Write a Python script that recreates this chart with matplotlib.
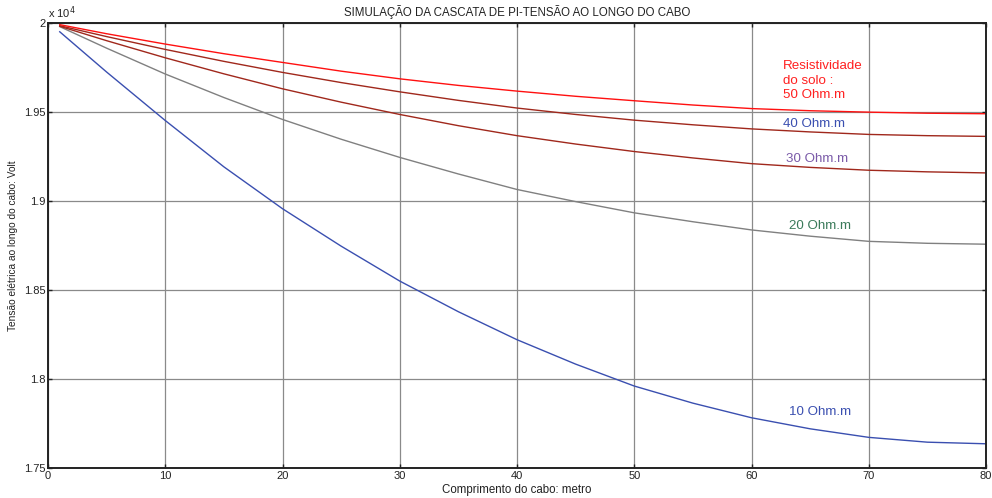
import matplotlib
matplotlib.use('Agg')
import matplotlib.pyplot as plt

plt.rcParams['font.family'] = ['Liberation Sans', 'DejaVu Sans']

# comprimento do cabo (m)
comprimento = [1, 5, 10, 15, 20, 25, 30, 35, 40, 45, 50, 55, 60, 65, 70, 75, 80]

# tensao ao longo do cabo (V) para cada resistividade do solo
v_10 = [19948, 19722, 19450, 19190, 18955, 18745, 18549, 18377, 18220, 18083,
        17960, 17864, 17782, 17720, 17672, 17645, 17636]
v_20 = [19977, 19856, 19711, 19579, 19456, 19345, 19243, 19150, 19063, 18995,
        18932, 18882, 18836, 18801, 18772, 18761, 18756]
v_30 = [19979, 19898, 19802, 19712, 19628, 19553, 19484, 19421, 19365, 19318,
        19276, 19240, 19208, 19187, 19171, 19162, 19156]
v_40 = [19982, 19921, 19849, 19782, 19720, 19663, 19611, 19563, 19520, 19484,
        19452, 19426, 19403, 19386, 19372, 19365, 19361]
v_50 = [19988, 19937, 19879, 19825, 19776, 19727, 19684, 19647, 19615, 19586,
        19561, 19537, 19517, 19505, 19497, 19491, 19488]

x_ticks = [0, 10, 20, 30, 40, 50, 60, 70, 80]
y_ticks = [17500, 18000, 18500, 19000, 19500, 20000]
y_ticklabels = ['1.75', '1.8', '1.85', '1.9', '1.95', '2']

fig = plt.figure(figsize=(9.92, 4.98), dpi=100)
ax = fig.add_axes([0.0484, 0.0602, 0.9456, 0.8946])

ax.plot(comprimento, v_10, color='#3a4fb0', linewidth=1)
ax.plot(comprimento, v_20, color='#808080', linewidth=1)
ax.plot(comprimento, v_30, color='#a0281c', linewidth=1)
ax.plot(comprimento, v_40, color='#a0281c', linewidth=1)
ax.plot(comprimento, v_50, color='#ff1010', linewidth=1)

ax.set_xlim(0, 80)
ax.set_ylim(17500, 20000)
ax.set_xticks(x_ticks)
ax.set_yticks(y_ticks)
ax.set_yticklabels(y_ticklabels)
ax.grid(True, color='#8a8a8a', linewidth=0.9, linestyle='-')
ax.set_axisbelow(True)
ax.tick_params(direction='in', length=3, width=1, top=True, right=True,
               labelsize=8, colors='#222222', pad=2)
for s in ax.spines.values():
    s.set_linewidth(1.4)
    s.set_color('#222222')

ax.text(0, 1.004, r'x 10$^4$', transform=ax.transAxes, fontsize=8,
        ha='left', va='bottom', color='#222222')

ax.set_title('SIMULAÇÃO DA CASCATA DE PI-TENSÃO AO LONGO DO CABO',
             fontsize=8.3, pad=5, color='#222222')
ax.set_xlabel('Comprimento do cabo: metro', fontsize=8.3, labelpad=2,
              color='#222222')
ax.set_ylabel('Tensão elétrica ao longo do cabo: Volt', fontsize=7.3,
              labelpad=4, color='#222222')

ax.text(62.7, 19674, 'Resistividade\ndo solo :\n50 Ohm.m', color='#ff2020',
        fontsize=9.6, va='center', ha='left', linespacing=1.3)
ax.text(62.7, 19430, '40 Ohm.m', color='#3a4fb0', fontsize=9.6, va='center')
ax.text(62.9, 19233, '30 Ohm.m', color='#7a5aa8', fontsize=9.6, va='center')
ax.text(63.2, 18857, '20 Ohm.m', color='#3a7a5a', fontsize=9.6, va='center')
ax.text(63.2, 17812, '10 Ohm.m', color='#3a4fb0', fontsize=9.6, va='center')

plt.savefig('out.png', dpi=100)
